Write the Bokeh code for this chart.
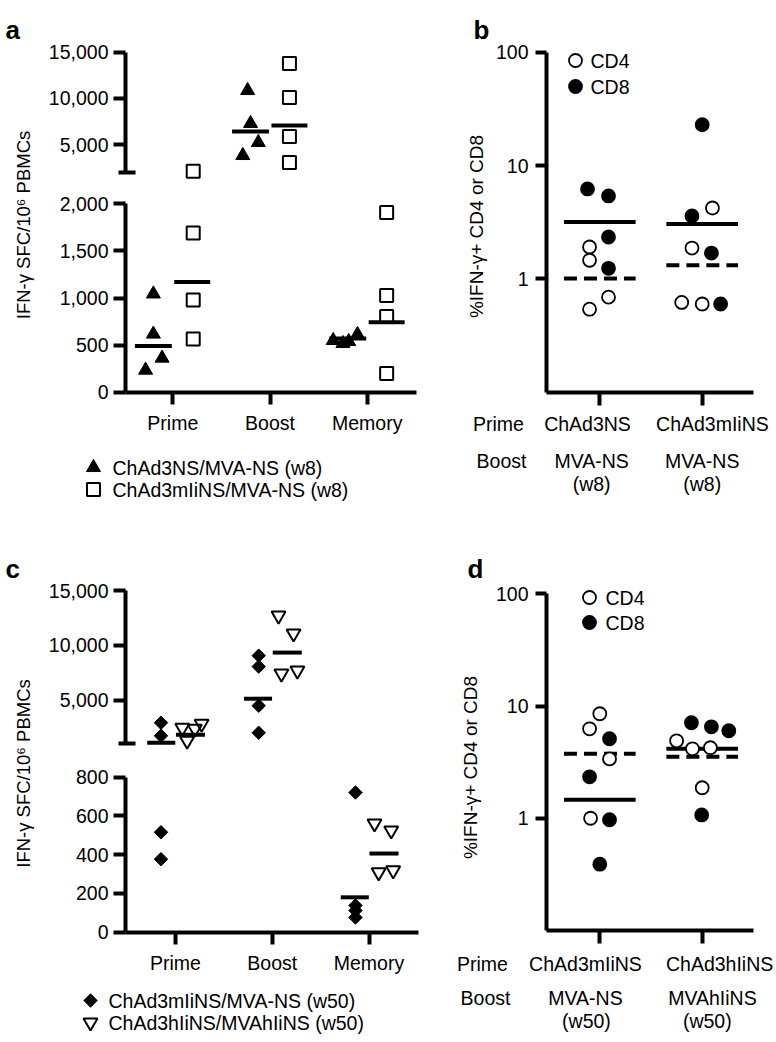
import math
from bokeh.plotting import figure
from bokeh.models import Range1d, LinearAxis, LogAxis, LogScale, FixedTicker, NumeralTickFormatter
from bokeh.core.properties import value
from bokeh.embed import file_html
from bokeh.resources import INLINE

# ---------------------------------------------------------------- data
groups = ["Prime", "Boost", "Memory"]

# panel a : IFN-g SFC / 10^6 PBMCs
a_tri = [[1043, 617, 362, 234], [10850, 7280, 5220, 3810], [549, 517, 538, 613]]
a_tri_med = [490, 6400, 570]
a_sq = [[2100, 1691, 979, 564], [13780, 10090, 5870, 3050], [1908, 1027, 804, 199]]
a_sq_med = [1170, 7060, 743]
a_legend = ["ChAd3NS/MVA-NS (w8)", "ChAd3mIiNS/MVA-NS (w8)"]
a_lo_ticks = [0, 500, 1000, 1500, 2000]
a_hi_ticks = [5000, 10000, 15000]

# panel c
c_dia = [[2923, 1734, 516, 377], [9050, 8050, 4478, 2008], [721, 138, 112, 76]]
c_dia_med = [1100, 5120, 180]
c_tri = [[2466, 1276, 2374, 2832], [12710, 11070, 7410, 7680], [561, 525, 309, 319]]
c_tri_med = [1825, 9330, 406]
c_legend = ["ChAd3mIiNS/MVA-NS (w50)", "ChAd3hIiNS/MVAhIiNS (w50)"]
c_lo_ticks = [0, 200, 400, 600, 800]
c_hi_ticks = [5000, 10000, 15000]

# panel b : % IFN-g+ CD4 or CD8
b_prime = ["ChAd3NS", "ChAd3mIiNS"]
b_boost = ["MVA-NS", "MVA-NS"]
b_week = ["(w8)", "(w8)"]
b_cd4 = [[1.91, 1.46, 0.69, 0.54], [4.22, 1.87, 0.62, 0.60]]
b_cd8 = [[6.22, 5.39, 2.34, 1.24], [22.9, 3.59, 1.69, 0.60]]
b_solid = [3.18, 3.05]
b_dashed = [1.01, 1.32]

# panel d
d_prime = ["ChAd3mIiNS", "ChAd3hIiNS"]
d_boost = ["MVA-NS", "MVAhIiNS"]
d_week = ["(w50)", "(w50)"]
d_cd4 = [[8.54, 6.27, 3.38, 1.00], [4.90, 4.16, 4.25, 1.87]]
d_cd8 = [[5.11, 2.34, 0.97, 0.39], [7.10, 6.53, 6.02, 1.07]]
d_solid = [1.46, 4.16]
d_dashed = [3.75, 3.53]

log_ticks = [1, 10, 100]
cd_legend = ["CD4", "CD8"]

# horizontal scatter of the points inside a group (category units)
a_tri_jit = [[-0.20, -0.20, -0.11, -0.28], [-0.23, -0.20, -0.12, -0.28], [-0.35, -0.25, -0.19, -0.10]]
a_sq_jit = [[0.21] * 4, [0.20] * 4, [0.20] * 4]
c_dia_jit = [[-0.15] * 4, [-0.14] * 4, [-0.14] * 4]
c_tri_jit = [[0.07, 0.12, 0.20, 0.27], [0.065, 0.22, 0.095, 0.26], [0.057, 0.23, 0.10, 0.25]]
b_cd4_jit = [[-0.10, -0.10, 0.085, -0.10], [0.10, -0.10, -0.20, 0.0]]
b_cd8_jit = [[-0.12, 0.085, 0.085, 0.085], [0.0, -0.10, 0.09, 0.18]]
d_cd4_jit = [[0.0, -0.10, 0.095, -0.09], [-0.25, -0.095, 0.08, 0.0]]
d_cd8_jit = [[0.095, -0.10, 0.095, 0.0], [-0.105, 0.09, 0.26, -0.005]]

# ---------------------------------------------------------------- layout helpers
FONT = "Liberation Sans"
FS = "19.5px"
W, H = 776, 1040
OX, OY = 0, 0  # canvas origin in page pixels


def lin_range(v0, p0, v1, p1, lo, hi):
    k = (v1 - v0) / (p1 - p0)
    return Range1d(start=v0 + (lo - p0) * k, end=v0 + (hi - p0) * k)


def xr(v0, p0, v1, p1):
    return lin_range(v0, p0, v1, p1, OX, OX + W)


def yr(v0, p0, v1, p1):
    return lin_range(v0, p0, v1, p1, OY + H, OY)


def ylog(v0, p0, v1, p1):
    r = yr(math.log10(v0), p0, math.log10(v1), p1)
    return Range1d(start=10 ** r.start, end=10 ** r.end)


def px2v(px, v0, p0, v1, p1):
    return v0 + (px - p0) * (v1 - v0) / (p1 - p0)


XA = (0, 172.3, 2, 366.7)
XC = (0, 175.0, 2, 368.5)
XB = (0, 599.3, 1, 701.7)

p = figure(width=W, height=H, x_range=Range1d(0, 1), y_range=Range1d(0, 1),
           x_axis_type=None, y_axis_type=None, toolbar_location=None,
           output_backend="svg", min_border=0, outline_line_color=None)
p.background_fill_color = "white"
p.border_fill_color = "white"

p.extra_x_ranges = {
    "xa": xr(*XA), "xc": xr(*XC), "xb": xr(*XB), "xd": xr(*XB),
    "px": Range1d(OX, OX + W),
}
p.extra_y_ranges = {
    "ya_lo": yr(0, 391.7, 2000, 203.3),
    "ya_hi": yr(2000, 171.7, 15000, 51.7),
    "yc_lo": yr(0, 931.7, 800, 776.7),
    "yc_hi": yr(1000, 743.3, 15000, 590.0),
    "yb": ylog(0.1, 391.7, 100, 51.7),
    "yd": ylog(0.1, 930.0, 100, 593.3),
    "py": Range1d(OY + H, OY),
}
p.extra_y_scales = {"yb": LogScale(), "yd": LogScale()}


def style(ax, tick_out=12, standoff=5, minor=False, minor_in=0, minor_out=0):
    ax.axis_line_width = 4
    ax.axis_line_color = "black"
    ax.major_tick_line_width = 4
    ax.major_tick_line_color = "black"
    ax.major_tick_in = 0
    ax.major_tick_out = tick_out
    ax.minor_tick_line_width = 4
    ax.minor_tick_line_color = "black" if minor else None
    ax.minor_tick_in = minor_in
    ax.minor_tick_out = minor_out
    ax.major_label_text_font = FONT
    ax.major_label_text_font_size = FS
    ax.major_label_text_color = "black"
    ax.major_label_standoff = standoff
    return ax


fmt = NumeralTickFormatter(format="0,0")

# ---------------------------------------------------------------- panels a & c (broken axes)
def broken_panel(xname, xcal, ylo, yhi, brk, top, lo_ticks, hi_ticks, yaxis_px, xend_px):
    loc = px2v(yaxis_px, *xcal)
    p.add_layout(style(LinearAxis(x_range_name=xname, y_range_name=ylo, fixed_location=loc,
                                  bounds=(0, lo_ticks[-1]), ticker=FixedTicker(ticks=lo_ticks),
                                  formatter=fmt)), "left")
    p.add_layout(style(LinearAxis(x_range_name=xname, y_range_name=yhi, fixed_location=loc,
                                  bounds=(brk, top),
                                  ticker=FixedTicker(ticks=hi_ticks, minor_ticks=[brk]),
                                  formatter=fmt), minor=True, minor_in=10, minor_out=7), "left")
    p.add_layout(style(LinearAxis(x_range_name=xname, y_range_name=ylo, fixed_location=0,
                                  bounds=(loc, px2v(xend_px, *xcal)),
                                  ticker=FixedTicker(ticks=list(range(len(groups)))),
                                  major_label_overrides={i: g for i, g in enumerate(groups)}),
                       tick_out=12, standoff=8), "below")


def split_scatter(vals, jit, brk, xname, ylo, yhi, **kw):
    lo_x, lo_y, hi_x, hi_y = [], [], [], []
    for g, (vs, js) in enumerate(zip(vals, jit)):
        for v, j in zip(vs, js):
            if v > brk:
                hi_x.append(g + j); hi_y.append(v)
            else:
                lo_x.append(g + j); lo_y.append(v)
    p.scatter(x=lo_x, y=lo_y, x_range_name=xname, y_range_name=ylo, **kw)
    p.scatter(x=hi_x, y=hi_y, x_range_name=xname, y_range_name=yhi, **kw)


def split_median(meds, off, hw, brk, xname, ylo, yhi):
    for name, sel in ((ylo, lambda v: v <= brk), (yhi, lambda v: v > brk)):
        x0 = [g + off - hw for g, m in enumerate(meds) if sel(m)]
        x1 = [g + off + hw for g, m in enumerate(meds) if sel(m)]
        yy = [m for m in meds if sel(m)]
        p.segment(x0=x0, y0=yy, x1=x1, y1=yy, x_range_name=xname, y_range_name=name,
                  line_width=4, line_color="black")


broken_panel("xa", XA, "ya_lo", "ya_hi", 2000, 15000, a_lo_ticks, a_hi_ticks, 125, 415.5)
broken_panel("xc", XC, "yc_lo", "yc_hi", 1000, 15000, c_lo_ticks, c_hi_ticks, 125, 418)

split_median(a_tri_med, -0.20, 0.19, 2000, "xa", "ya_lo", "ya_hi")
split_median(a_sq_med, 0.20, 0.185, 2000, "xa", "ya_lo", "ya_hi")
split_scatter(a_tri, a_tri_jit, 2000, "xa", "ya_lo", "ya_hi",
              marker="triangle", size=14, fill_color="black", line_color="black")
split_scatter(a_sq, a_sq_jit, 2000, "xa", "ya_lo", "ya_hi",
              marker="square", size=13, fill_color=None, line_color="black", line_width=2)

split_median(c_dia_med, -0.147, 0.145, 1000, "xc", "yc_lo", "yc_hi")
split_median(c_tri_med, 0.155, 0.15, 1000, "xc", "yc_lo", "yc_hi")
split_scatter(c_dia, c_dia_jit, 1000, "xc", "yc_lo", "yc_hi",
              marker="square", angle=math.pi / 4, size=9.5, fill_color="black", line_color="black")
split_scatter(c_tri, c_tri_jit, 1000, "xc", "yc_lo", "yc_hi",
              marker="inverted_triangle", size=14, fill_color=None, line_color="black", line_width=2)

# ---------------------------------------------------------------- panels b & d (log axes)
def log_panel(xname, yname, cd4, cd4_jit, cd8, cd8_jit, solid, dashed):
    loc = px2v(546, *XB)
    p.add_layout(style(LogAxis(x_range_name=xname, y_range_name=yname, fixed_location=loc,
                               bounds=(0.1, 100), ticker=FixedTicker(ticks=log_ticks),
                               formatter=fmt), tick_out=11, standoff=7), "left")
    p.add_layout(style(LinearAxis(x_range_name=xname, y_range_name=yname, fixed_location=0.1,
                                  bounds=(loc, px2v(753, *XB)), ticker=FixedTicker(ticks=[0, 1]),
                                  major_label_overrides={0: "", 1: ""}), tick_out=13), "below")
    n = len(solid)
    p.segment(x0=[g - 0.35 for g in range(n)], x1=[g + 0.35 for g in range(n)], y0=solid, y1=solid,
              x_range_name=xname, y_range_name=yname, line_width=4, line_color="black")
    p.segment(x0=[g - 0.35 for g in range(n)], x1=[g + 0.35 for g in range(n)], y0=dashed, y1=dashed,
              x_range_name=xname, y_range_name=yname, line_width=4, line_color="black",
              line_dash="13 7")
    for vals, jit, fill in ((cd4, cd4_jit, "white"), (cd8, cd8_jit, "black")):
        xs = [g + j for g, js in enumerate(jit) for j in js]
        ys = [v for vs in vals for v in vs]
        p.scatter(x=xs, y=ys, x_range_name=xname, y_range_name=yname, marker="circle", size=13,
                  fill_color=fill, line_color="black", line_width=1.8)


log_panel("xb", "yb", b_cd4, b_cd4_jit, b_cd8, b_cd8_jit, b_solid, b_dashed)
log_panel("xd", "yd", d_cd4, d_cd4_jit, d_cd8, d_cd8_jit, d_solid, d_dashed)

# ---------------------------------------------------------------- texts
def txt(xs, ys, texts, xname="px", align="center", angle=0, size=FS, style="normal",
        baseline="middle"):
    p.text(x=xs, y=ys, text=texts, x_range_name=xname, y_range_name="py", angle=angle,
           text_font=value(FONT), text_font_size=size, text_font_style=style,
           text_align=align, text_baseline=baseline, text_color="black")


# panel letters
txt([5, 5], [29.3, 568], ["a", "c"], align="left", size="26px", style="bold", baseline="alphabetic")
txt([473, 467], [29, 568], ["b", "d"], align="left", size="26px", style="bold", baseline="alphabetic")

# y titles
txt([23, 23], [224.5, 773], ["IFN-γ SFC/10⁶ PBMCs"] * 2, angle=math.pi / 2, size="18.5px")
txt([476, 470], [226, 767], ["%IFN-γ+ CD4 or CD8"] * 2, angle=math.pi / 2, size="19px")

# legends of a and c
p.scatter(x=[93], y=[467], x_range_name="px", y_range_name="py", marker="triangle", size=14,
          fill_color="black", line_color="black")
p.scatter(x=[93], y=[489], x_range_name="px", y_range_name="py", marker="square", size=13,
          fill_color=None, line_color="black", line_width=2)
txt([112, 112], [467, 489], a_legend, align="left")
p.scatter(x=[90], y=[1000], x_range_name="px", y_range_name="py", marker="square",
          angle=math.pi / 4, size=9.5, fill_color="black", line_color="black")
p.scatter(x=[90], y=[1022], x_range_name="px", y_range_name="py", marker="inverted_triangle",
          size=14, fill_color=None, line_color="black", line_width=2)
txt([108, 108], [1000, 1022], c_legend, align="left")

# legends of b and d
for cx, ys, tx in ((575, (60, 86), 590), (589, (597, 622), 605)):
    p.scatter(x=[cx, cx], y=list(ys), x_range_name="px", y_range_name="py", marker="circle",
              size=13, fill_color=["white", "black"], line_color="black", line_width=1.8)
    txt([tx, tx], list(ys), cd_legend, align="left")

# category rows of b and d
txt([498, 501], [423, 460], ["Prime", "Boost"])
txt([482, 485], [963, 997], ["Prime", "Boost"])
txt([0 - 0.12, 1 + 0.10], [423, 423], b_prime, xname="xb")
txt([0 - 0.08, 1 + 0.0], [460, 460], b_boost, xname="xb")
txt([0 - 0.08, 1 + 0.0], [483, 483], b_week, xname="xb")
txt([0 - 0.14, 1 + 0.17], [963, 963], d_prime, xname="xd")
txt([0 - 0.14, 1 + 0.10], [997, 997], d_boost, xname="xd")
txt([0 - 0.13, 1 + 0.05], [1020, 1020], d_week, xname="xd")

open("out.html", "w").write(file_html(p, INLINE))
